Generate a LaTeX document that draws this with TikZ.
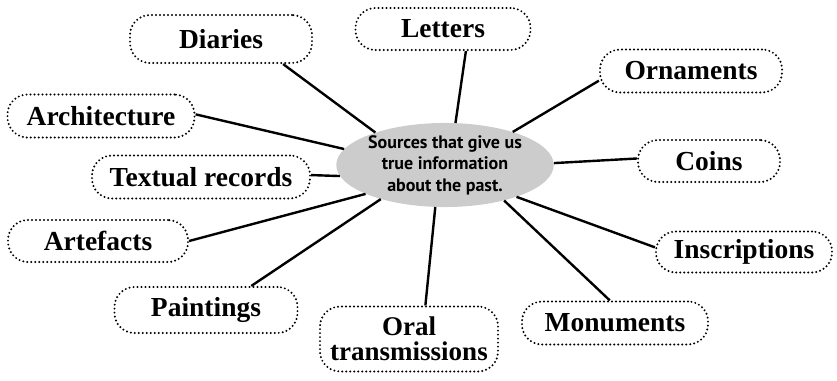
\documentclass[tikz,border=0pt]{standalone}
\usepackage{fontspec}
\setmainfont{Liberation Serif}
\newfontfamily\centerfont{PT Sans}
\usetikzlibrary{shapes.geometric}
\definecolor{ellgray}{RGB}{204,204,204}
\tikzset{
  src/.style={draw, line width=2.2pt, line cap=round, dash pattern=on 0pt off 4pt,
    rounded corners=20pt, font=\fontsize{27.5}{28}\selectfont\bfseries, align=center,
    inner sep=0pt},
  conn/.style={line width=2.4pt},
}
\begin{document}
\begin{tikzpicture}[x=1pt,y=-1pt]
\useasboundingbox (0,0) rectangle (837,380);
\node[ellipse, fill=ellgray, minimum width=196pt, minimum height=82pt, align=center, inner sep=0pt,
  font=\centerfont\bfseries\fontsize{18}{21.5}\selectfont] (c) at (445,165)
  {Sources that give us\\true information\\about the past.};
\node[src, minimum width=182pt, minimum height=48pt] (diaries) at (221,39) {Diaries};
\node[src, minimum width=175pt, minimum height=42pt] (letters) at (443,29) {Letters};
\node[src, minimum width=182pt, minimum height=43pt] (ornaments) at (691,71) {Ornaments};
\node[src, minimum width=187pt, minimum height=43pt] (architecture) at (101,116) {Architecture};
\node[src, minimum width=142pt, minimum height=42pt] (coins) at (709,161) {Coins};
\node[src, minimum width=218pt, minimum height=43pt] (textual) at (201,177) {Textual records};
\node[src, minimum width=180pt, minimum height=42pt] (artefacts) at (98,241) {Artefacts};
\node[src, minimum width=176pt, minimum height=41pt] (inscriptions) at (744,252) {Inscriptions};
\node[src, minimum width=183pt, minimum height=46pt] (paintings) at (206,310) {Paintings};
\node[src, minimum width=186pt, minimum height=43pt] (monuments) at (615,323) {Monuments};
\node[src, minimum width=178pt, minimum height=65pt, font=\fontsize{27}{25.5}\selectfont\bfseries] (oral) at (409,339) {Oral\\transmissions};
\draw[conn] (c.155) -- (diaries.-22);
\draw[conn] (c.76) -- (letters.-44);
\draw[conn] (c.26) -- (ornaments.186);
\draw[conn] (c.171) -- (architecture.1);
\draw[conn] (c.1) -- (coins.178);
\draw[conn] (c.186) -- (textual.1);
\draw[conn] (c.200) -- (artefacts.0);
\draw[conn] (c.-24) -- (inscriptions.177);
\draw[conn] (c.208) -- (paintings.28);
\draw[conn] (c.-31) -- (monuments.103);
\draw[conn] (c.-103) -- (oral.64);
\end{tikzpicture}
\end{document}
